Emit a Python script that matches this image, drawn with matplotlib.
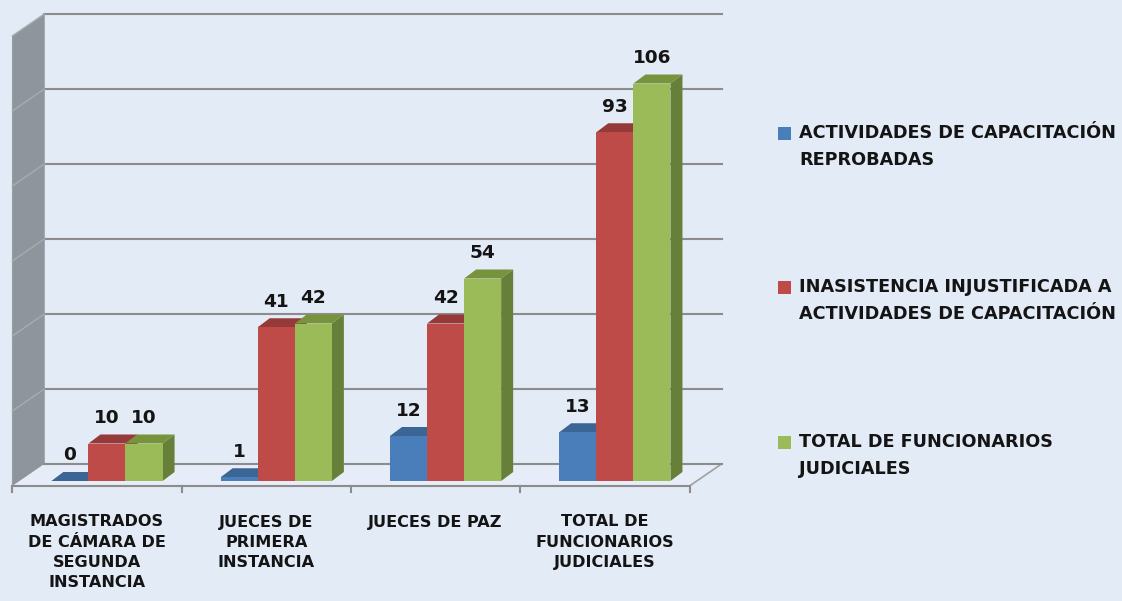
import numpy as np
import matplotlib.pyplot as plt
from matplotlib.patches import Polygon, Rectangle

categories = ["MAGISTRADOS\nDE CÁMARA DE\nSEGUNDA\nINSTANCIA",
              "JUECES DE\nPRIMERA\nINSTANCIA",
              "JUECES DE PAZ",
              "TOTAL DE\nFUNCIONARIOS\nJUDICIALES"]
series_names = ["ACTIVIDADES DE CAPACITACIÓN\nREPROBADAS",
                "INASISTENCIA INJUSTIFICADA A\nACTIVIDADES DE CAPACITACIÓN",
                "TOTAL DE FUNCIONARIOS\nJUDICIALES"]
reprobadas = [0, 1, 12, 13]
inasistencia = [10, 41, 42, 93]
total = [10, 42, 54, 106]
values = [reprobadas, inasistencia, total]

front_cols = ["#4A7EBB", "#BE4B48", "#9BBB59"]
top_cols = ["#3A6594", "#953A38", "#77933C"]
side_cols = ["#385D8A", "#8C3836", "#66803A"]

bg = "#E3EBF7"
grid_c = "#8C8C8C"
txt_c = "#141414"
plt.rcParams['font.family'] = ['DejaVu Sans']

W, H = 1122, 601
fig = plt.figure(figsize=(W / 100, H / 100), dpi=100, facecolor=bg)
# axes: front plane of the bars, x in categories, y in values
px_x0, px_x1 = 22.3, 699.5
px_y0, ppu = 481, 3.75
ymax = 120
ax = fig.add_axes([px_x0 / W, (H - px_y0) / H, (px_x1 - px_x0) / W, ymax * ppu / H])
ax.set_xlim(0, 4)
ax.set_ylim(0, ymax)
ax.axis("off")

cx = (px_x1 - px_x0) / 4  # px per category
def off(dxp, dyp):
    return dxp / cx, dyp / ppu

Fx, Fy = off(-10, -5)    # floor front edge
Bx, By = off(22, 17)     # back wall
ddx, ddy = off(12, 9)    # bar depth

# left wall
ax.add_patch(Polygon([(Fx, Fy), (Fx, ymax + Fy), (Bx, ymax + By), (Bx, By)],
                     closed=True, fc="#8F959D", ec="#8F959D", lw=0.5, clip_on=False, zorder=1))
# floor
ax.add_patch(Polygon([(Fx, Fy), (4 + Fx, Fy), (4 + Bx, By), (Bx, By)],
                     closed=True, fc="#E6EDF8", ec="none", clip_on=False, zorder=1))
ax.plot([4 + Fx, 4 + Bx], [Fy, By], color="#A0A0A0", lw=1.2, clip_on=False, zorder=2)
ax.plot([Fx, 4 + Fx], [Fy, Fy], color=grid_c, lw=1.5, clip_on=False, zorder=2)
for i in range(5):
    ax.plot([i + Fx, i + Fx], [Fy, Fy - 1.6], color=grid_c, lw=1.5, clip_on=False, zorder=2)

# gridlines
for v in range(0, ymax + 1, 20):
    ax.plot([Bx, 4 + Bx], [v + By, v + By], color=grid_c, lw=1.5, clip_on=False, zorder=2)
    if v > 0:
        ax.plot([Fx, Bx], [v + Fy, v + By], color="#A8ACB2", lw=1.0, clip_on=False, zorder=2)

# bars
w = 0.219
for i in range(4):
    for s in range(3):
        v = values[s][i]
        x0 = i + 0.5 - 1.5 * w + s * w
        z = 3 + s * 3
        ax.bar(x0, v, width=w, align="edge", color=front_cols[s], zorder=z + 2, clip_on=False)
        ax.add_patch(Polygon([(x0, v), (x0 + w, v), (x0 + w + ddx, v + ddy), (x0 + ddx, v + ddy)],
                             closed=True, fc=top_cols[s], ec="none", zorder=z + 1, clip_on=False))
        ax.add_patch(Polygon([(x0 + w, 0), (x0 + w, v), (x0 + w + ddx, v + ddy), (x0 + w + ddx, ddy)],
                             closed=True, fc=side_cols[s], ec="none", zorder=z, clip_on=False))
        ax.text(x0 + w / 2, v + 6.8, str(v), ha="center", va="center", fontsize=13.3,
                fontweight="bold", color=txt_c, zorder=20)

# category labels
for i, c in enumerate(categories):
    ax.text(i + 0.5 + Fx, Fy - 7.6, c, ha="center", va="top", fontsize=11.6,
            fontweight="bold", color=txt_c, linespacing=1.42)

# legend
leg_y = [133, 287, 442]
for s in range(3):
    fig.patches.append(Rectangle((778 / W, 1 - (leg_y[s] + 6.5) / H), 13 / W, 13 / H,
                                 transform=fig.transFigure, fc=front_cols[s], ec="none"))
    fig.text(799 / W, 1 - (leg_y[s] - 9) / H, series_names[s], ha="left", va="top",
             fontsize=12.7, fontweight="bold", color=txt_c, linespacing=1.62)

fig.savefig("out.png", dpi=100, facecolor=bg)
